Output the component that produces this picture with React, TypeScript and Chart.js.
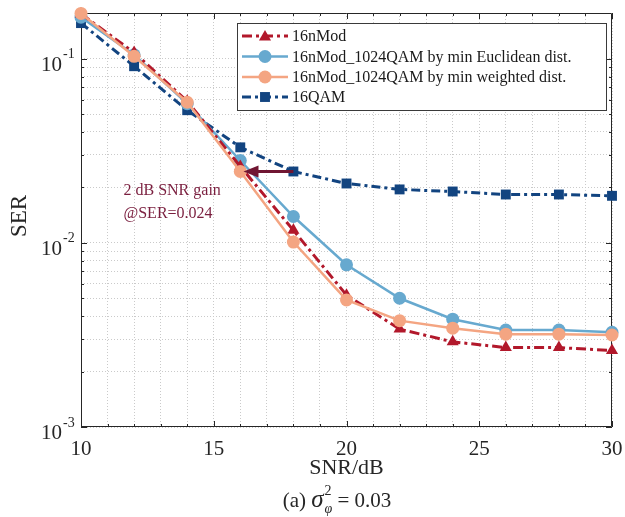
import React, { useEffect, useRef } from 'react';
import { Chart, registerables } from 'chart.js';

Chart.register(...registerables);

// ---------- data ----------
const snrDb = [10, 12, 14, 16, 18, 20, 22, 24, 26, 28, 30];
const ser16nMod = [0.175, 0.108, 0.0587, 0.026, 0.0117, 0.0052, 0.0034, 0.0029, 0.0027, 0.0027, 0.0026];
const serEuclidean = [0.168, 0.105, 0.057, 0.028, 0.0139, 0.0076, 0.005, 0.00385, 0.00336, 0.00336, 0.00327];
const serWeighted = [0.176, 0.103, 0.058, 0.0244, 0.0101, 0.0049, 0.00378, 0.00344, 0.00319, 0.00319, 0.00316];
const ser16QAM = [0.156, 0.091, 0.0525, 0.033, 0.0244, 0.021, 0.0195, 0.019, 0.0183, 0.0183, 0.018];

const seriesLabels = [
  '16nMod',
  '16nMod_1024QAM by min Euclidean dist.',
  '16nMod_1024QAM by min weighted dist.',
  '16QAM',
];
const xMajorTicks = [10, 15, 20, 25, 30];
const xMinorTicks = [10, 11, 12, 13, 14, 15, 16, 17, 18, 19, 20, 21, 22, 23, 24, 25, 26, 27, 28, 29, 30];
const yDecades = [0.001, 0.01, 0.1];
const yExponents = ['-3', '-2', '-1'];
const yMinorTicks = [
  0.001, 0.002, 0.003, 0.004, 0.005, 0.006, 0.007, 0.008, 0.009,
  0.01, 0.02, 0.03, 0.04, 0.05, 0.06, 0.07, 0.08, 0.09, 0.1,
];
const gainText = ['2 dB SNR gain', '@SER=0.024'];
const gainArrow = { fromX: 18, toX: 16.12, atY: 0.0244 };

// ---------- style ----------
const SERIF = '"Liberation Serif", "Times New Roman", serif';
const RED = 'rgb(178,24,43)';
const LBLUE = 'rgb(103,169,207)';
const SALMON = 'rgb(244,165,130)';
const DBLUE = 'rgb(18,68,128)';
const MAROON = 'rgb(112,22,50)';
const AXIS = '#262626';

const toPts = (ys: number[]) => snrDb.map((x, i) => ({ x, y: ys[i] }));

function drawMarker(ctx: CanvasRenderingContext2D, style: string, x: number, y: number, r: number, color: string) {
  ctx.save();
  ctx.setLineDash([]);
  ctx.fillStyle = color;
  ctx.beginPath();
  if (style === 'circle') {
    ctx.arc(x, y, r, 0, Math.PI * 2);
  } else if (style === 'triangle') {
    for (let k = 0; k < 3; k++) {
      const a = -Math.PI / 2 + (k * 2 * Math.PI) / 3;
      const px = x + Math.cos(a) * r;
      const py = y + Math.sin(a) * r + r * 0.15;
      if (k === 0) ctx.moveTo(px, py);
      else ctx.lineTo(px, py);
    }
    ctx.closePath();
  } else {
    const s = r * Math.SQRT2;
    ctx.rect(x - s / 2, y - s / 2, s, s);
  }
  ctx.fill();
  ctx.restore();
}

const decorPlugin = {
  id: 'decor',
  beforeDatasetsDraw(chart: any) {
    const { ctx, chartArea } = chart;
    const { left, right, top, bottom } = chartArea;
    const x = chart.scales.x;
    const y = chart.scales.y;
    ctx.save();
    ctx.strokeStyle = AXIS;
    ctx.lineWidth = 1;
    ctx.setLineDash([]);
    ctx.beginPath();
    ctx.rect(left + 0.5, top + 0.5, right - left - 1, bottom - top - 1);
    ctx.stroke();
    // x ticks (inward, bottom & top)
    ctx.beginPath();
    xMinorTicks.forEach((v) => {
      const p = Math.round(x.getPixelForValue(v)) + 0.5;
      const len = xMajorTicks.includes(v) ? 6 : 3;
      ctx.moveTo(p, bottom);
      ctx.lineTo(p, bottom - len);
      ctx.moveTo(p, top);
      ctx.lineTo(p, top + len);
    });
    // y ticks (inward, left & right)
    yMinorTicks.forEach((v) => {
      const p = Math.round(y.getPixelForValue(v)) + 0.5;
      const len = yDecades.includes(v) ? 6 : 3;
      ctx.moveTo(left, p);
      ctx.lineTo(left + len, p);
      ctx.moveTo(right, p);
      ctx.lineTo(right - len, p);
    });
    ctx.stroke();
    ctx.restore();
  },
  afterDraw(chart: any) {
    const { ctx, chartArea } = chart;
    const { left, right, top, bottom } = chartArea;
    const x = chart.scales.x;
    const y = chart.scales.y;
    ctx.save();
    ctx.setLineDash([]);

    // y tick labels 10^k
    ctx.fillStyle = AXIS;
    yDecades.forEach((v, i) => {
      const p = y.getPixelForValue(v);
      ctx.font = `21px ${SERIF}`;
      ctx.textAlign = 'right';
      ctx.textBaseline = 'alphabetic';
      ctx.fillText('10', 62, p + 12);
      ctx.font = `14px ${SERIF}`;
      ctx.textAlign = 'left';
      ctx.fillText(yExponents[i], 63, p - 0.5);
    });

    // axis titles
    ctx.font = `22px ${SERIF}`;
    ctx.textAlign = 'center';
    ctx.textBaseline = 'alphabetic';
    ctx.fillText('SNR/dB', (left + right) / 2, 474);
    ctx.save();
    ctx.translate(26, (top + bottom) / 2 - 4);
    ctx.rotate(-Math.PI / 2);
    ctx.font = `23px ${SERIF}`;
    ctx.fillText('SER', 0, 0);
    ctx.restore();

    // caption: (a) sigma_phi^2 = 0.03
    {
      const base = 507;
      ctx.textAlign = 'left';
      ctx.textBaseline = 'alphabetic';
      ctx.font = `21px ${SERIF}`;
      const w1 = ctx.measureText('(a) ').width;
      ctx.font = `italic 25px ${SERIF}`;
      const w2 = ctx.measureText('σ').width;
      ctx.font = `14px ${SERIF}`;
      const w3 = ctx.measureText('2').width;
      ctx.font = `italic 14px ${SERIF}`;
      const w3b = ctx.measureText('φ').width;
      ctx.font = `21px ${SERIF}`;
      const w4 = ctx.measureText(' = 0.03').width;
      const total = w1 + w2 + 1 + Math.max(w3, w3b) + w4;
      let cx = 337 - total / 2;
      ctx.font = `21px ${SERIF}`;
      ctx.fillText('(a) ', cx, base);
      cx += w1;
      ctx.font = `italic 25px ${SERIF}`;
      ctx.fillText('σ', cx, base);
      cx += w2 + 1;
      ctx.font = `14px ${SERIF}`;
      ctx.fillText('2', cx, base - 12);
      ctx.font = `italic 14px ${SERIF}`;
      ctx.fillText('φ', cx, base + 6);
      cx += Math.max(w3, w3b);
      ctx.font = `21px ${SERIF}`;
      ctx.fillText(' = 0.03', cx, base);
    }

    // annotation arrow
    {
      const x0 = x.getPixelForValue(gainArrow.fromX);
      const x1 = x.getPixelForValue(gainArrow.toX);
      const py = y.getPixelForValue(gainArrow.atY);
      ctx.strokeStyle = MAROON;
      ctx.fillStyle = MAROON;
      ctx.lineWidth = 3;
      ctx.beginPath();
      ctx.moveTo(x0, py);
      ctx.lineTo(x1 + 12, py);
      ctx.stroke();
      ctx.beginPath();
      ctx.moveTo(x1, py);
      ctx.lineTo(x1 + 15, py - 6);
      ctx.lineTo(x1 + 15, py + 6);
      ctx.closePath();
      ctx.fill();
      ctx.font = `16px ${SERIF}`;
      ctx.textAlign = 'left';
      ctx.textBaseline = 'middle';
      ctx.fillStyle = 'rgb(122,30,62)';
      ctx.fillText(gainText[0], x.getPixelForValue(11.6), y.getPixelForValue(0.0192));
      ctx.fillText(gainText[1], x.getPixelForValue(11.6), y.getPixelForValue(0.0144));
    }

    // legend
    {
      const bx = 237.5, by = 23.5, bw = 369, bh = 87;
      ctx.fillStyle = '#ffffff';
      ctx.fillRect(bx, by, bw, bh);
      ctx.strokeStyle = '#3a3a3a';
      ctx.lineWidth = 1;
      ctx.strokeRect(bx, by, bw, bh);
      const rows = [36, 56.5, 77, 97];
      chart.data.datasets.forEach((ds: any, i: number) => {
        const ry = rows[i];
        ctx.strokeStyle = ds.borderColor;
        ctx.lineWidth = ds.borderWidth;
        ctx.setLineDash(ds.borderDash || []);
        ctx.beginPath();
        ctx.moveTo(242, ry);
        ctx.lineTo(288, ry);
        ctx.stroke();
        drawMarker(ctx, ds.pointStyle, 265, ry, ds.pointRadius, ds.borderColor);
        ctx.setLineDash([]);
        ctx.fillStyle = '#1a1a1a';
        ctx.font = `16px ${SERIF}`;
        ctx.textAlign = 'left';
        ctx.textBaseline = 'middle';
        ctx.fillText(ds.label, 292, ry + 1);
      });
    }
    ctx.restore();
  },
};

export default function App() {
  const ref = useRef<HTMLCanvasElement | null>(null);
  useEffect(() => {
    if (!ref.current) return;
    const chart = new Chart(ref.current, {
      type: 'line',
      data: {
        datasets: [
          {
            label: seriesLabels[0],
            data: toPts(ser16nMod),
            borderColor: RED,
            backgroundColor: RED,
            borderWidth: 3,
            borderDash: [10, 4, 3, 4],
            pointStyle: 'triangle',
            pointRadius: 7,
            pointBorderWidth: 0,
            order: 1,
            clip: false,
          },
          {
            label: seriesLabels[1],
            data: toPts(serEuclidean),
            borderColor: LBLUE,
            backgroundColor: LBLUE,
            borderWidth: 2.5,
            borderDash: [],
            pointStyle: 'circle',
            pointRadius: 6.5,
            pointBorderWidth: 0,
            order: 2,
            clip: false,
          },
          {
            label: seriesLabels[2],
            data: toPts(serWeighted),
            borderColor: SALMON,
            backgroundColor: SALMON,
            borderWidth: 2.5,
            borderDash: [],
            pointStyle: 'circle',
            pointRadius: 6.5,
            pointBorderWidth: 0,
            order: 0,
            clip: false,
          },
          {
            label: seriesLabels[3],
            data: toPts(ser16QAM),
            borderColor: DBLUE,
            backgroundColor: DBLUE,
            borderWidth: 3,
            borderDash: [9, 4, 3, 4],
            pointStyle: 'rect',
            pointRadius: 7,
            pointBorderWidth: 0,
            order: 3,
            clip: false,
          },
        ],
      },
      options: {
        responsive: false,
        animation: false,
        events: [],
        layout: { padding: { left: 0, top: 13, right: 13, bottom: 0 } },
        plugins: { legend: { display: false }, tooltip: { enabled: false }, title: { display: false } },
        elements: { line: { tension: 0 } },
        scales: {
          x: {
            type: 'linear',
            min: 10,
            max: 30,
            afterBuildTicks: (s: any) => {
              s.ticks = xMinorTicks.map((v) => ({ value: v }));
            },
            afterFit: (s: any) => {
              s.height = 90;
              s.paddingLeft = 0;
              s.paddingRight = 0;
            },
            grid: { color: '#cacaca', lineWidth: 1, drawTicks: false },
            border: { display: false, dash: [1, 2] },
            ticks: {
              autoSkip: false,
              maxRotation: 0,
              padding: 10,
              color: AXIS,
              font: { family: SERIF, size: 21 },
              callback: (v: any) => (xMajorTicks.includes(Number(v)) ? String(v) : ''),
            },
          },
          y: {
            type: 'logarithmic',
            min: 0.001,
            max: 0.177,
            afterBuildTicks: (s: any) => {
              s.ticks = yMinorTicks.map((v) => ({ value: v }));
            },
            afterFit: (s: any) => {
              s.width = 81;
              s.paddingTop = 0;
              s.paddingBottom = 0;
            },
            grid: { color: '#cacaca', lineWidth: 1, drawTicks: false },
            border: { display: false, dash: [1, 2] },
            ticks: { display: false },
          },
        },
      },
      plugins: [decorPlugin],
    } as any);
    return () => chart.destroy();
  }, []);
  return (
    <div style={{ position: 'fixed', left: 0, top: 0, width: 625, height: 517, background: '#fff' }}>
      <canvas ref={ref} width={625} height={517} style={{ width: 625, height: 517, display: 'block' }} />
    </div>
  );
}
